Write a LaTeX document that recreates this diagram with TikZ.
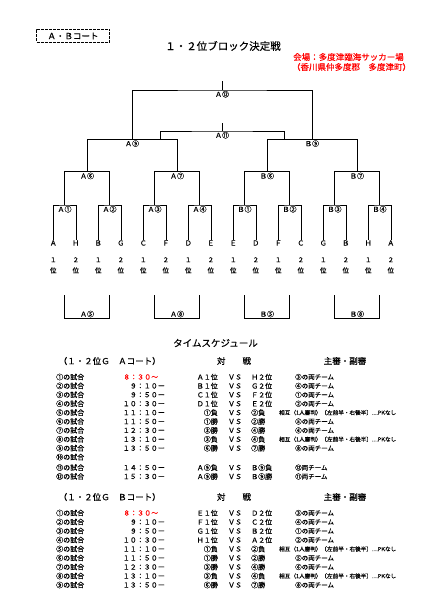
\documentclass[tikz,border=0pt]{standalone}
\usepackage{fontspec}
\newfontfamily\jp[FakeBold=0.4]{Noto Sans CJK JP}
\usetikzlibrary{positioning}
\definecolor{venue}{RGB}{255,0,0}
\tikzset{
  line/.style={draw=black,line width=0.6pt},
  tag/.style={font=\jp\fontsize{7}{7}\selectfont,inner sep=0.8pt},
  team/.style={font=\jp\fontsize{7}{7}\selectfont,inner sep=0pt},
  rank/.style={font=\jp\fontsize{6.5}{10.7}\selectfont,align=center,inner sep=0pt},
  cell/.style={font=\jp\fontsize{7}{7}\selectfont,inner sep=0pt},
  refbox/.style={font=\jp\fontsize{6.5}{6.5}\selectfont,inner sep=0pt,anchor=west},
  note/.style={font=\jp\fontsize{5.6}{5.6}\selectfont,inner sep=0pt,anchor=west},
  head/.style={font=\jp\fontsize{8.5}{8.5}\selectfont,inner sep=0pt},
}

\begin{document}
\begin{tikzpicture}[x=1pt,y=-1pt]
\useasboundingbox (0,0) rectangle (430,609);

% header
\node[head,draw,line width=1.6pt,dash pattern=on 3pt off 1pt,minimum width=73pt,minimum height=13pt] (court) at (73,36) {Ａ・Ｂコート};
\node[font=\jp\fontsize{10.5}{10.5}\selectfont] (title) at (223,46) {１・２位ブロック決定戦};
\node[head,text=venue] (place) at (348.5,57) {会場：多度津臨海サッカー場};
\node[head,text=venue] (addr) at (351.5,67) {（香川県仲多度郡　多度津町）};

% teams and ranks
\foreach \t [count=\i] in {Ａ,Ｈ,Ｂ,Ｇ,Ｃ,Ｆ,Ｄ,Ｅ,Ｅ,Ｄ,Ｆ,Ｃ,Ｇ,Ｂ,Ｈ,Ａ}{
  \pgfmathsetmacro\xx{53.3+22.5*(\i-1)}
  \node[team] (L\i) at (\xx,243) {\t};
  \ifodd\i \def\rk{１}\else \def\rk{２}\fi
  \node[rank] (R\i) at (\xx,265.3) {\rk\\位};
}

% winners bracket
\node[tag,anchor=north] (a1) at (64.55,205) {Ａ①};
\node[tag,anchor=north] (a2) at (109.55,205) {Ａ②};
\node[tag,anchor=north] (a3) at (154.55,205) {Ａ③};
\node[tag,anchor=north] (a4) at (199.55,205) {Ａ④};
\node[tag,anchor=north] (b1) at (244.55,205) {Ｂ①};
\node[tag,anchor=north] (b2) at (289.55,205) {Ｂ②};
\node[tag,anchor=north] (b3) at (334.55,205) {Ｂ③};
\node[tag,anchor=north] (b4) at (379.55,205) {Ｂ④};
\node[tag,anchor=north] (a6) at (87.05,171.7) {Ａ⑥};
\node[tag,anchor=north] (a7) at (177.05,171.7) {Ａ⑦};
\node[tag,anchor=north] (b6) at (267.05,171.7) {Ｂ⑥};
\node[tag,anchor=north] (b7) at (357.05,171.7) {Ｂ⑦};
\node[tag,anchor=north] (a9) at (132.05,139.3) {Ａ⑨};
\node[tag,anchor=north] (b9) at (312.05,139.3) {Ｂ⑨};
\node[tag,anchor=north] (a11) at (222.05,131) {Ａ⑪};
\node[tag,anchor=north] (a12) at (222.05,90) {Ａ⑫};
\coordinate (a11l) at (160,139.3);
\coordinate (a11r) at (284,139.3);
\coordinate (a11top) at (222.05,122.7);
\coordinate (top) at (222.05,81);

\draw[line] (L1.north) |- (a1.north) -| (L2.north);
\draw[line] (L3.north) |- (a2.north) -| (L4.north);
\draw[line] (L5.north) |- (a3.north) -| (L6.north);
\draw[line] (L7.north) |- (a4.north) -| (L8.north);
\draw[line] (L9.north) |- (b1.north) -| (L10.north);
\draw[line] (L11.north) |- (b2.north) -| (L12.north);
\draw[line] (L13.north) |- (b3.north) -| (L14.north);
\draw[line] (L15.north) |- (b4.north) -| (L16.north);
\draw[line] (a1.north) |- (a6.north) -| (a2.north);
\draw[line] (a3.north) |- (a7.north) -| (a4.north);
\draw[line] (b1.north) |- (b6.north) -| (b2.north);
\draw[line] (b3.north) |- (b7.north) -| (b4.north);
\draw[line] (a6.north) |- (a9.north) -| (a7.north);
\draw[line] (b6.north) |- (b9.north) -| (b7.north);
\draw[line] (a9.north) |- (a12.north) -| (b9.north);
\draw[line] (a12.north) -- (top);
\draw[line] (a11l) |- (a11.north) -| (a11r);
\draw[line] (a11.north) -- (a11top);

% losers bracket
\node[tag,anchor=south] (a5) at (87.05,318.3) {Ａ⑤};
\node[tag,anchor=south] (a8) at (177.05,318.3) {Ａ⑧};
\node[tag,anchor=south] (b5) at (267.05,318.3) {Ｂ⑤};
\node[tag,anchor=south] (b8) at (357.05,318.3) {Ｂ⑧};
\coordinate (a5l) at (64.55,295);  \coordinate (a5r) at (109.55,295);
\coordinate (a8l) at (154.55,295); \coordinate (a8r) at (199.55,295);
\coordinate (b5l) at (244.55,295); \coordinate (b5r) at (289.55,295);
\coordinate (b8l) at (334.55,295); \coordinate (b8r) at (379.55,295);
\draw[line] (a5l) |- (a5.south) -| (a5r);
\draw[line] (a8l) |- (a8.south) -| (a8r);
\draw[line] (b5l) |- (b5.south) -| (b5r);
\draw[line] (b8l) |- (b8.south) -| (b8r);

% time schedule
\node[font=\jp\fontsize{9.5}{9.5}\selectfont] (sched) at (215.5,343) {タイムスケジュール};

% court A
\node[head] (hA) at (109.7,361) {（１・２位Ｇ　Ａコート）};
\node[head] (vsA) at (234,361) {対　　戦};
\node[head] (rfA) at (345,361) {主審・副審};
\foreach \k [count=\i] in {①,②,③,④,⑤,⑥,⑦,⑧,⑨,⑩,⑪,⑫}{
  \pgfmathsetmacro\yy{377+8.9*(\i-1)+(\i>10)*1.6}
  \node[cell,anchor=west] (nA\i) at (56,\yy) {\k{}の試合};
}
\node[cell,anchor=west,text=venue] (tA1) at (123,377) {８：３０～};
\foreach \i/\tm in {2/９：１０ー,3/９：５０ー,4/１０：３０ー,5/１１：１０ー,6/１１：５０ー,7/１２：３０ー,8/１３：１０ー,9/１３：５０ー,11/１４：５０ー,12/１５：３０ー}{
  \pgfmathsetmacro\yy{377+8.9*(\i-1)+(\i>10)*1.6}
  \node[cell,anchor=east] (tA\i) at (165,\yy) {\tm};
}
\foreach \i/\l/\r in {1/Ａ１位/Ｈ２位,2/Ｂ１位/Ｇ２位,3/Ｃ１位/Ｆ２位,4/Ｄ１位/Ｅ２位,5/①負/②負,6/①勝/②勝,7/③勝/④勝,8/③負/④負,9/⑥勝/⑦勝,11/Ａ⑨負/Ｂ⑨負,12/Ａ⑨勝/Ｂ⑨勝}{
  \pgfmathsetmacro\yy{377+8.9*(\i-1)+(\i>10)*1.6}
  \node[cell,anchor=east] (lA\i) at (218,\yy) {\l};
  \node[cell] (vA\i) at (235,\yy) {ＶＳ};
  \node[cell,anchor=west] (rA\i) at (251,\yy) {\r};
}
\foreach \i/\rf in {1/③の両チーム,2/④の両チーム,3/①の両チーム,4/②の両チーム,6/⑤の両チーム,7/⑥の両チーム,9/⑧の両チーム,11/⑫両チーム,12/⑪両チーム}{
  \pgfmathsetmacro\yy{377+8.9*(\i-1)+(\i>10)*1.6}
  \node[refbox] (fA\i) at (295,\yy) {\rf};
}
\foreach \i in {5,8}{
  \pgfmathsetmacro\yy{377+8.9*(\i-1)}
  \node[note] (mA\i) at (279,\yy) {相互（1人審判）〔左前半・右後半〕…PKなし};
}

% court B
\node[head] (hB) at (109.7,497) {（１・２位Ｇ　Ｂコート）};
\node[head] (vsB) at (234,497) {対　　戦};
\node[head] (rfB) at (345,497) {主審・副審};
\foreach \k [count=\i] in {①,②,③,④,⑤,⑥,⑦,⑧,⑨}{
  \pgfmathsetmacro\yy{513+9*(\i-1)}
  \node[cell,anchor=west] (nB\i) at (56,\yy) {\k{}の試合};
}
\node[cell,anchor=west,text=venue] (tB1) at (123,513) {８：３０～};
\foreach \i/\tm in {2/９：１０ー,3/９：５０ー,4/１０：３０ー,5/１１：１０ー,6/１１：５０ー,7/１２：３０ー,8/１３：１０ー,9/１３：５０ー}{
  \pgfmathsetmacro\yy{513+9*(\i-1)}
  \node[cell,anchor=east] (tB\i) at (165,\yy) {\tm};
}
\foreach \i/\l/\r in {1/Ｅ１位/Ｄ２位,2/Ｆ１位/Ｃ２位,3/Ｇ１位/Ｂ２位,4/Ｈ１位/Ａ２位,5/①負/②負,6/①勝/②勝,7/③勝/④勝,8/③負/④負,9/⑥勝/⑦勝}{
  \pgfmathsetmacro\yy{513+9*(\i-1)}
  \node[cell,anchor=east] (lB\i) at (218,\yy) {\l};
  \node[cell] (vB\i) at (235,\yy) {ＶＳ};
  \node[cell,anchor=west] (rB\i) at (251,\yy) {\r};
}
\foreach \i/\rf in {1/③の両チーム,2/④の両チーム,3/①の両チーム,4/②の両チーム,6/⑤の両チーム,7/⑥の両チーム,9/⑧の両チーム}{
  \pgfmathsetmacro\yy{513+9*(\i-1)}
  \node[refbox] (fB\i) at (295,\yy) {\rf};
}
\foreach \i in {5,8}{
  \pgfmathsetmacro\yy{513+9*(\i-1)}
  \node[note] (mB\i) at (279,\yy) {相互（1人審判）〔左前半・右後半〕…PKなし};
}
\end{tikzpicture}
\end{document}
